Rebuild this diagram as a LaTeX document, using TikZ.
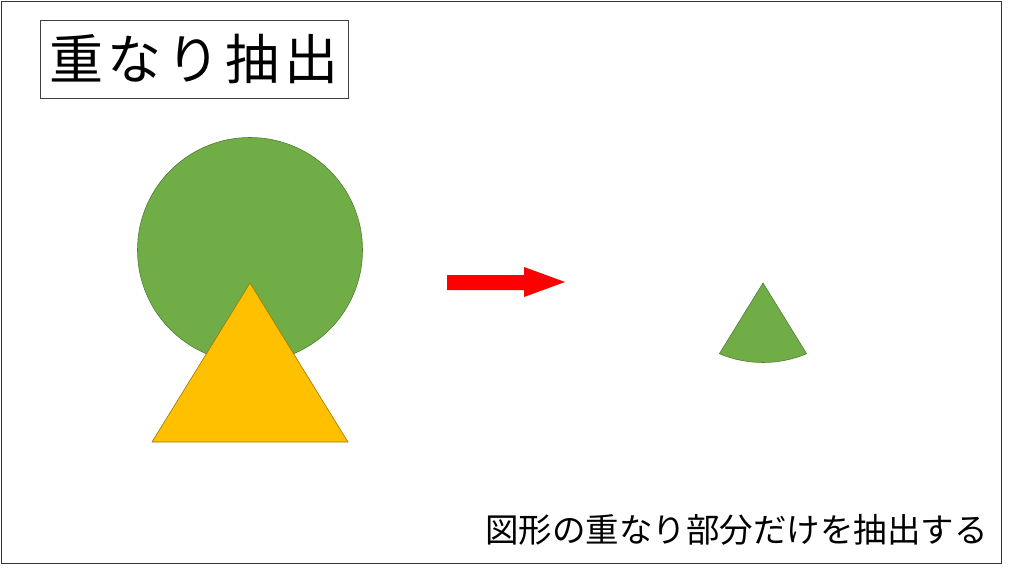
\documentclass[tikz,border=0pt]{standalone}
\usepackage{fontspec}
\newfontfamily\jpfont{Noto Sans CJK JP}
\definecolor{leafgreen}{HTML}{70AD47}
\definecolor{leafedge}{HTML}{507E32}
\definecolor{goldtri}{HTML}{FFC000}
\definecolor{goldedge}{HTML}{9C7800}
\newcommand{\jp}{\jpfont}

\begin{document}
\begin{tikzpicture}[x=1pt,y=-1pt,
  titlebox/.style={draw=black!75,line width=0.9pt,minimum width=308pt,minimum height=78pt,inner sep=0pt},
  shapeline/.style={line width=0.6pt}]
  \useasboundingbox (  0,  0) rectangle (1024,570);
  \draw[black!80,line width=1pt] (  1,  1) rectangle (1001,563);
  % title
  \node[titlebox] (title) at (194, 59) {\fontsize{54}{54}\selectfont\jp 重\hspace{5pt}な\hspace{5pt}り\hspace{5pt}抽\hspace{5pt}出};
  % circle and triangle
  \draw[shapeline,fill=leafgreen,draw=leafedge] (250,250) circle[radius=112.5];
  \draw[shapeline,fill=goldtri,draw=goldedge] (250,283) -- (152,442) -- (348,442) -- cycle;
  % arrow
  \fill[red] (447,275) -- (524,275) -- (524,267) -- (565,282) -- (524,297) -- (524,290) -- (447,290) -- cycle;
  % overlap part
  \draw[shapeline,fill=leafgreen,draw=leafedge] (763,283) -- (719.4,353.7)
     arc[start angle=112.8,end angle=67.2,radius=112.5] -- cycle;
  % caption
  \node[anchor=east,inner sep=0pt] (caption) at (988,530) {\fontsize{33.5}{33.5}\selectfont\jp 図形の重なり部分だけを抽出する};
\end{tikzpicture}
\end{document}
